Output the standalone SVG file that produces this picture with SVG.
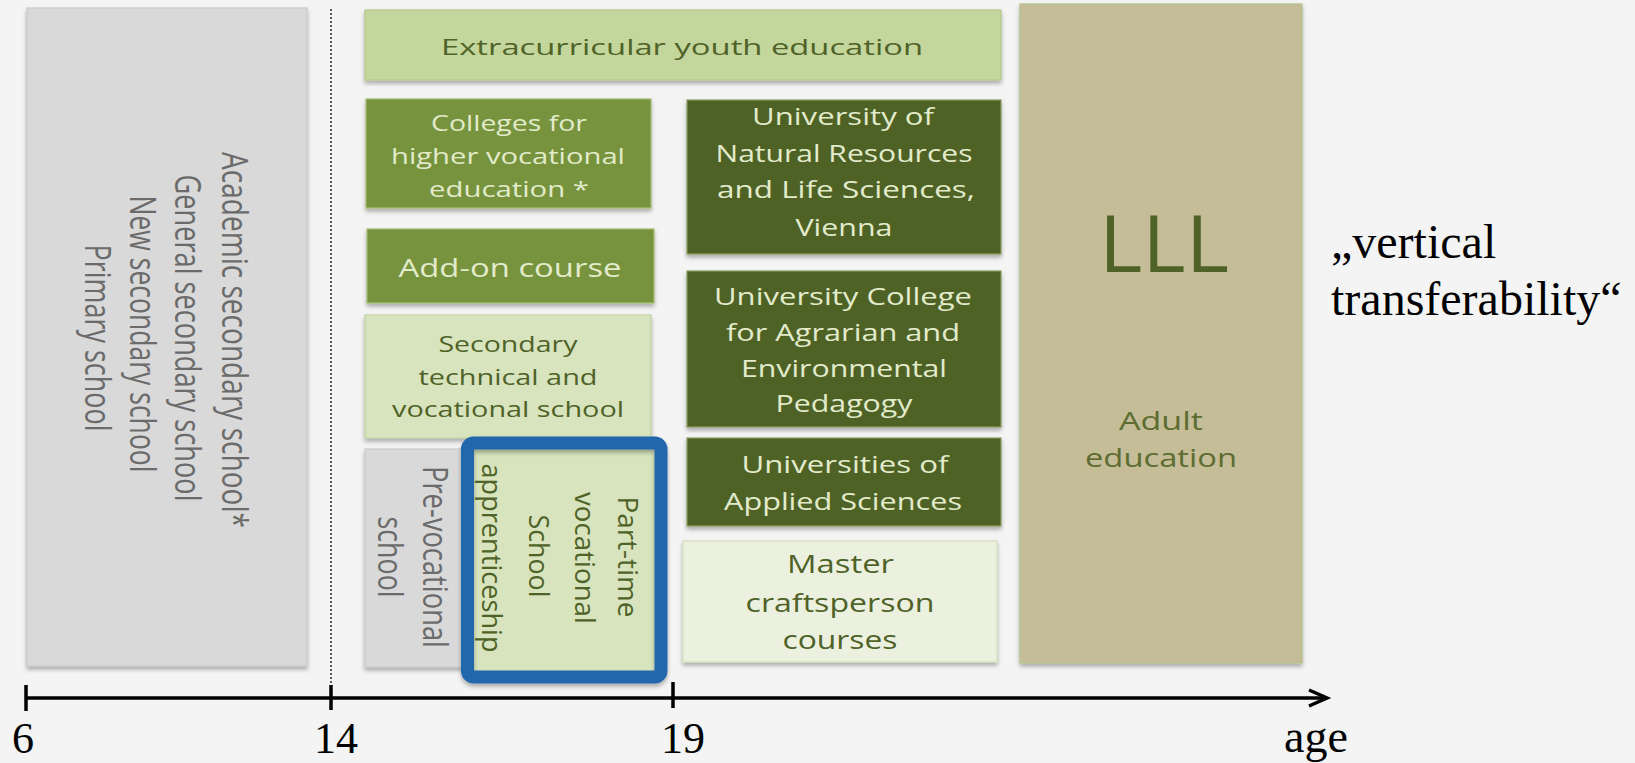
<svg xmlns="http://www.w3.org/2000/svg" width="1635" height="763" viewBox="0 0 1635 763">
  <defs>
    <filter id="sh" x="-5%" y="-5%" width="110%" height="115%">
      <feDropShadow dx="0" dy="3" stdDeviation="2" flood-color="#000" flood-opacity="0.3"/>
    </filter>
    <style>
      .box { filter: url(#sh); stroke-width: 1.2; }
      .gray { fill: #d9d9d9; stroke: #c9c9c9; }
      .pale { fill: #c3d69b; stroke: #b5c88d; }
      .mid { fill: #77933c; stroke: #a5bb74; }
      .dark { fill: #4f6228; stroke: #8a9d5e; }
      .light { fill: #d7e4bd; stroke: #c3d3a3; }
      .lighter { fill: #ebf1de; stroke: #d4e0bd; }
      .tan { fill: #c4bd97; stroke: #b3c08c; }
      .t { font-family: "Open Sans", "Noto Sans", sans-serif; text-anchor: middle; }
      .tg { fill: #6b6b6b; }
      .tdk { fill: #4f6228; }
      .tlt { fill: #e2ebcb; }
      .serif { font-family: "Liberation Serif", "Times New Roman", serif; fill: #000; }
      .ax { stroke: #000; stroke-width: 3.5; fill: none; }
    </style>
  </defs>
  <rect width="1635" height="763" fill="#f3f4f3"/>

  <g id="general-schools">
    <rect class="box gray" x="27" y="8" width="280" height="658"/>
    <g class="t tg" font-size="36">
      <text transform="translate(222,340) rotate(90)" textLength="376" lengthAdjust="spacingAndGlyphs">Academic secondary school*</text>
      <text transform="translate(175,338) rotate(90)" textLength="327" lengthAdjust="spacingAndGlyphs">General secondary school</text>
      <text transform="translate(130,334) rotate(90)" textLength="277" lengthAdjust="spacingAndGlyphs">New secondary school</text>
      <text transform="translate(85,338) rotate(90)" textLength="187" lengthAdjust="spacingAndGlyphs">Primary school</text>
    </g>
  </g>

  <g id="extracurricular">
    <rect class="box pale" x="365" y="10" width="636" height="70"/>
    <text class="t tdk" x="682" y="55" font-size="22" textLength="482" lengthAdjust="spacingAndGlyphs">Extracurricular youth education</text>
  </g>

  <g id="colleges">
    <rect class="box mid" x="366" y="99" width="285" height="109"/>
    <g class="t tlt" font-size="22">
      <text x="509" y="131" textLength="156" lengthAdjust="spacingAndGlyphs">Colleges for</text>
      <text x="508" y="164" textLength="234" lengthAdjust="spacingAndGlyphs">higher vocational</text>
      <text x="509" y="197" textLength="160" lengthAdjust="spacingAndGlyphs">education *</text>
    </g>
  </g>

  <g id="add-on">
    <rect class="box mid" x="367" y="229" width="287" height="74"/>
    <text class="t tlt" x="510" y="277" font-size="25.5" textLength="223" lengthAdjust="spacingAndGlyphs">Add-on course</text>
  </g>

  <g id="secondary-technical">
    <rect class="box light" x="365" y="315" width="286" height="123"/>
    <g class="t tdk" font-size="22">
      <text x="508" y="352" textLength="139" lengthAdjust="spacingAndGlyphs">Secondary</text>
      <text x="508" y="385" textLength="179" lengthAdjust="spacingAndGlyphs">technical and</text>
      <text x="508" y="417" textLength="232" lengthAdjust="spacingAndGlyphs">vocational school</text>
    </g>
  </g>

  <g id="pre-vocational">
    <rect class="box gray" x="365" y="449" width="112" height="218"/>
    <g class="t tg" font-size="35">
      <text transform="translate(423,557) rotate(90)" textLength="182" lengthAdjust="spacingAndGlyphs">Pre-vocational</text>
      <text transform="translate(378,557) rotate(90)" textLength="81" lengthAdjust="spacingAndGlyphs">school</text>
    </g>
  </g>

  <g id="part-time">
    <rect class="box light" x="472" y="447" width="184" height="226"/>
    <g class="t tdk" font-size="28">
      <text transform="translate(618,557) rotate(90)" textLength="121" lengthAdjust="spacingAndGlyphs">Part-time</text>
      <text transform="translate(575,558) rotate(90)" textLength="132" lengthAdjust="spacingAndGlyphs">vocational</text>
      <text transform="translate(529,556) rotate(90)" textLength="83" lengthAdjust="spacingAndGlyphs">School</text>
      <text transform="translate(482,558) rotate(90)" textLength="189" lengthAdjust="spacingAndGlyphs">apprenticeship</text>
    </g>
    <rect x="467.5" y="443" width="193.5" height="234" rx="6" fill="none" stroke="#2166ac" stroke-width="13" filter="url(#sh)"/>
  </g>

  <g id="univ-natural-resources">
    <rect class="box dark" x="687" y="100" width="314" height="154"/>
    <g class="t tlt" font-size="23.5">
      <text x="843" y="125" textLength="182" lengthAdjust="spacingAndGlyphs">University of</text>
      <text x="844" y="162" textLength="257" lengthAdjust="spacingAndGlyphs">Natural Resources</text>
      <text x="846" y="198" textLength="258" lengthAdjust="spacingAndGlyphs">and Life Sciences,</text>
      <text x="844" y="236" textLength="97" lengthAdjust="spacingAndGlyphs">Vienna</text>
    </g>
  </g>

  <g id="univ-college-agrarian">
    <rect class="box dark" x="687" y="271" width="314" height="156"/>
    <g class="t tlt" font-size="23.5">
      <text x="843" y="305" textLength="258" lengthAdjust="spacingAndGlyphs">University College</text>
      <text x="843" y="341" textLength="234" lengthAdjust="spacingAndGlyphs">for Agrarian and</text>
      <text x="844" y="377" textLength="206" lengthAdjust="spacingAndGlyphs">Environmental</text>
      <text x="844" y="412" textLength="137" lengthAdjust="spacingAndGlyphs">Pedagogy</text>
    </g>
  </g>

  <g id="univ-applied-sciences">
    <rect class="box dark" x="687" y="438" width="314" height="88"/>
    <g class="t tlt" font-size="24">
      <text x="845" y="473" textLength="207" lengthAdjust="spacingAndGlyphs">Universities of</text>
      <text x="843" y="510" textLength="238" lengthAdjust="spacingAndGlyphs">Applied Sciences</text>
    </g>
  </g>

  <g id="master-craftsperson">
    <rect class="box lighter" x="683" y="541" width="314" height="121"/>
    <g class="t tdk" font-size="25.5">
      <text x="840.5" y="573" textLength="107" lengthAdjust="spacingAndGlyphs">Master</text>
      <text x="840" y="612" textLength="189" lengthAdjust="spacingAndGlyphs">craftsperson</text>
      <text x="840" y="649" textLength="115" lengthAdjust="spacingAndGlyphs">courses</text>
    </g>
  </g>

  <g id="lll">
    <rect class="box tan" x="1020" y="4" width="282" height="659"/>
    <text class="t" x="1164" y="272" font-size="78" fill="#4f6228" textLength="130" lengthAdjust="spacingAndGlyphs">LLL</text>
    <g class="t" font-size="26" fill="#5d6c31">
      <text x="1161" y="430" textLength="84" lengthAdjust="spacingAndGlyphs">Adult</text>
      <text x="1161" y="467" textLength="152" lengthAdjust="spacingAndGlyphs">education</text>
    </g>
  </g>

  <g id="vertical-transferability" class="serif" font-size="48">
    <text x="1331" y="258">„vertical</text>
    <text x="1331" y="315">transferability“</text>
  </g>

  <g id="connectors">
    <line x1="331" y1="9" x2="331" y2="684" stroke="#222" stroke-width="1.5" stroke-dasharray="2,2"/>
    <line class="ax" x1="26" y1="698" x2="1326" y2="698"/>
    <line class="ax" x1="26" y1="685" x2="26" y2="711"/>
    <line class="ax" x1="331" y1="685" x2="331" y2="710"/>
    <line class="ax" x1="673" y1="682" x2="673" y2="708"/>
    <polyline class="ax" stroke-width="4" points="1309,690 1327,698 1309,706"/>
  </g>

  <g id="axis-labels" class="serif" font-size="44" text-anchor="middle">
    <text x="23" y="753">6</text>
    <text x="336" y="753">14</text>
    <text x="683" y="753">19</text>
    <text x="1316" y="752" font-size="46">age</text>
  </g>
</svg>
